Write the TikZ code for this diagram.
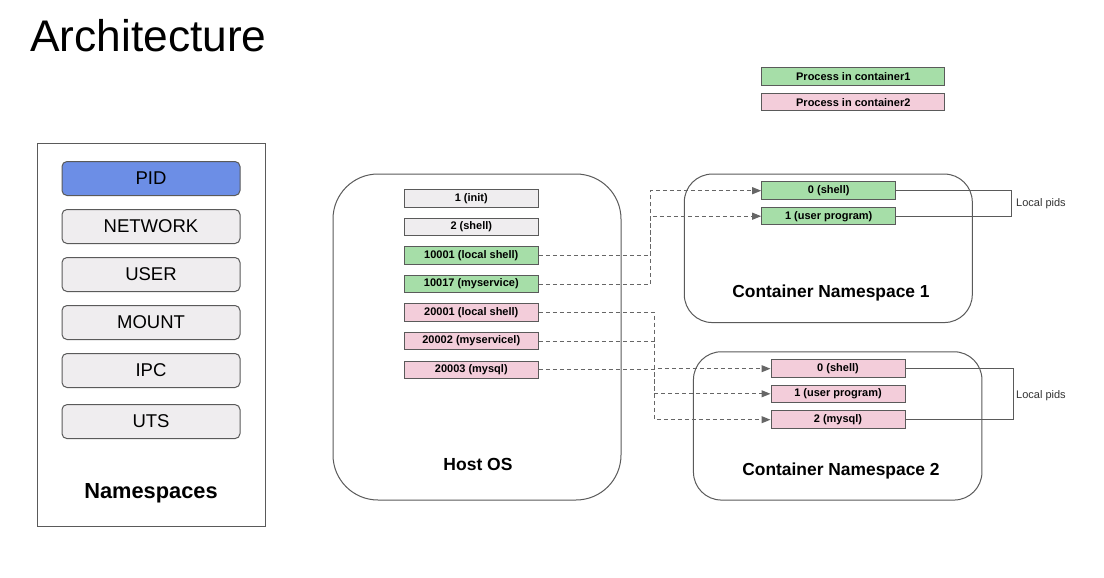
\documentclass[tikz,border=0pt]{standalone}
\usepackage{fontspec}
\setmainfont{Liberation Sans}
\usetikzlibrary{arrows.meta}
\definecolor{bordergray}{HTML}{5A5A5A}
\definecolor{linegray}{HTML}{666666}
\definecolor{pidblue}{HTML}{6C8EE6}
\definecolor{nsgray}{HTML}{EFEDEF}
\definecolor{cgreen}{HTML}{A6DEA8}
\definecolor{cpink}{HTML}{F3CDDA}
\tikzset{
  nsbox/.style={draw=bordergray, line width=1pt, rounded corners=5pt, fill=nsgray,
    minimum width=178pt, minimum height=34pt, inner sep=0pt,
    font=\fontsize{18.5}{20}\selectfont},
  proc/.style={draw=bordergray, line width=1pt, minimum height=17.5pt, inner sep=0pt,
    font=\fontsize{11}{12}\selectfont\bfseries},
  hostproc/.style={proc, minimum width=134pt},
  procw/.style={fill=nsgray},
  procg/.style={fill=cgreen},
  procp/.style={fill=cpink},
  region/.style={draw=bordergray, line width=1pt, inner sep=0pt},
  link/.style={draw=linegray, dash pattern=on 4pt off 3pt, line width=1pt,
    -{Triangle[length=9pt,width=7pt,fill=linegray]}},
  bracket/.style={draw=bordergray, line width=1pt},
  lbl/.style={anchor=west, inner sep=0pt, text=black!80, font=\fontsize{11}{12}\selectfont},
  heading/.style={inner sep=0pt, font=\bfseries}
}
\begin{document}
\begin{tikzpicture}[x=1pt, y=-1pt]
\useasboundingbox[fill=white] (0,0) rectangle (1104,578);

% title
\node[anchor=base west, inner sep=0pt, font=\fontsize{44.3}{50}\selectfont] (title) at (30,52) {Architecture};

% namespaces panel
\node[draw=bordergray, line width=1pt, minimum width=227.7pt, minimum height=383.4pt, inner sep=0pt] (nspanel) at (151.2,335) {};
\node[nsbox, fill=pidblue] (pid) at (151,178.5) {PID};
\node[nsbox] (network) at (151,226.5) {NETWORK};
\node[nsbox] (user) at (151,274.5) {USER};
\node[nsbox] (mount) at (151,322.5) {MOUNT};
\node[nsbox] (ipc) at (151,370.5) {IPC};
\node[nsbox] (uts) at (151,421.6) {UTS};
\node[heading, font=\fontsize{21.8}{24}\selectfont\bfseries] (nstitle) at (151,492.8) {Namespaces};

% regions
\node[region, rounded corners=45pt, minimum width=288pt, minimum height=326pt] (host) at (477,337) {};
\node[region, rounded corners=28pt, minimum width=288pt, minimum height=148.5pt] (cns1) at (828.3,248.3) {};
\node[region, rounded corners=28pt, minimum width=288.5pt, minimum height=148.3pt] (cns2) at (837.7,425.9) {};

\node[heading, font=\fontsize{17.5}{20}\selectfont\bfseries] (hosttitle) at (478,464.5) {Host OS};
\node[heading, font=\fontsize{17.4}{20}\selectfont\bfseries] (c1title) at (831,293.2) {Container Namespace 1};
\node[heading, font=\fontsize{17.4}{20}\selectfont\bfseries] (c2title) at (841,470.5) {Container Namespace 2};

% host processes
\node[hostproc, procw] (p1) at (471.3,198.3) {1 (init)};
\node[hostproc, procw] (p2) at (471.3,227.1) {2 (shell)};
\node[hostproc, procg] (p10001) at (471.3,255.7) {10001 (local shell)};
\node[hostproc, procg] (p10017) at (471.3,284.1) {10017 (myservice)};
\node[hostproc, procp] (p20001) at (471.3,312.7) {20001 (local shell)};
\node[hostproc, procp] (p20002) at (471.3,341.1) {20002 (myservicel)};
\node[hostproc, procp] (p20003) at (471.3,369.8) {20003 (mysql)};

% container 1 processes
\node[proc, procg, minimum width=134pt] (c1shell) at (828.7,190.7) {0 (shell)};
\node[proc, procg, minimum width=134pt] (c1user) at (828.7,216.2) {1 (user program)};

% container 2 processes
\node[proc, procp, minimum width=134pt] (c2shell) at (838,368.7) {0 (shell)};
\node[proc, procp, minimum width=134pt] (c2user) at (838,393.8) {1 (user program)};
\node[proc, procp, minimum width=134pt] (c2mysql) at (838,419.7) {2 (mysql)};

% legend
\node[proc, procg, minimum width=183.3pt] (leg1) at (853.3,76.7) {Process in container1};
\node[proc, procp, minimum width=183.3pt] (leg2) at (853.3,102.2) {Process in container2};

% mappings
\draw[link] (p10001.east) -- ++(111.7,0) |- (c1shell.west);
\draw[link] (p10017.east) -- ++(111.7,0) |- (c1user.west);
\draw[link] (p20001.east) -- ++(116,0) |- (c2shell.west);
\draw[link] (p20002.east) -- ++(116,0) |- (c2user.west);
\draw[link] (p20003.east) -- ++(116,0) |- (c2mysql.west);

% local pid brackets
\draw[bracket] (c1shell.east) -- ++(115,0) |- (c1user.east);
\draw[bracket] (c2shell.east) -- ++(108.3,0) |- (c2mysql.east);
\node[lbl] (lp1) at (1016,203.7) {Local pids};
\node[lbl] (lp2) at (1016,396) {Local pids};
\end{tikzpicture}
\end{document}
